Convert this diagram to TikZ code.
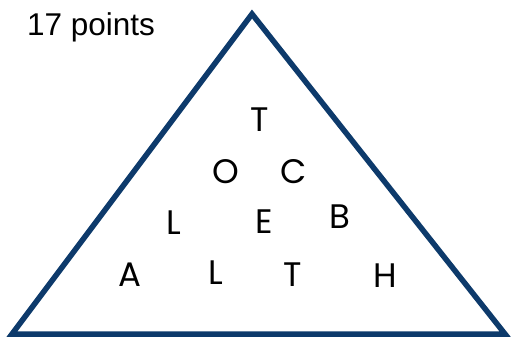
\documentclass[tikz,border=0pt]{standalone}
\usepackage{fontspec}
\setmainfont{Liberation Sans}
\newfontfamily\letterfont{Poppins}
\usetikzlibrary{positioning}
\definecolor{navy}{HTML}{0D3A6B}

\begin{document}
\begin{tikzpicture}[x=1pt, y=-1pt, ltr/.style={font=\letterfont\fontsize{34}{34}\selectfont, inner sep=0pt}]
\useasboundingbox (0,0) rectangle (513,339);
\node[anchor=west, font=\fontsize{31.5}{31.5}\selectfont, inner sep=0pt] (title) at (27,27) {17 points};
\coordinate (apex) at (252,14);
\coordinate (bl) at (12,334);
\coordinate (br) at (505,334);
\draw[navy, line width=5.5pt, line join=miter] (apex) -- (br) -- (bl) -- cycle;
% letters, row by row
\node[ltr] (t1) at (260,120) {T};
\node[ltr] (o1) at (226,172) {O};
\node[ltr] (c1) at (294,172) {C};
\node[ltr] (l1) at (174,223) {L};
\node[ltr] (e1) at (264,222) {E};
\node[ltr] (b1) at (340,217) {B};
\node[ltr] (a1) at (130,275) {A};
\node[ltr] (l2) at (216,273) {L};
\node[ltr] (t2) at (293,275) {T};
\node[ltr] (h1) at (385,276) {H};
\end{tikzpicture}
\end{document}
